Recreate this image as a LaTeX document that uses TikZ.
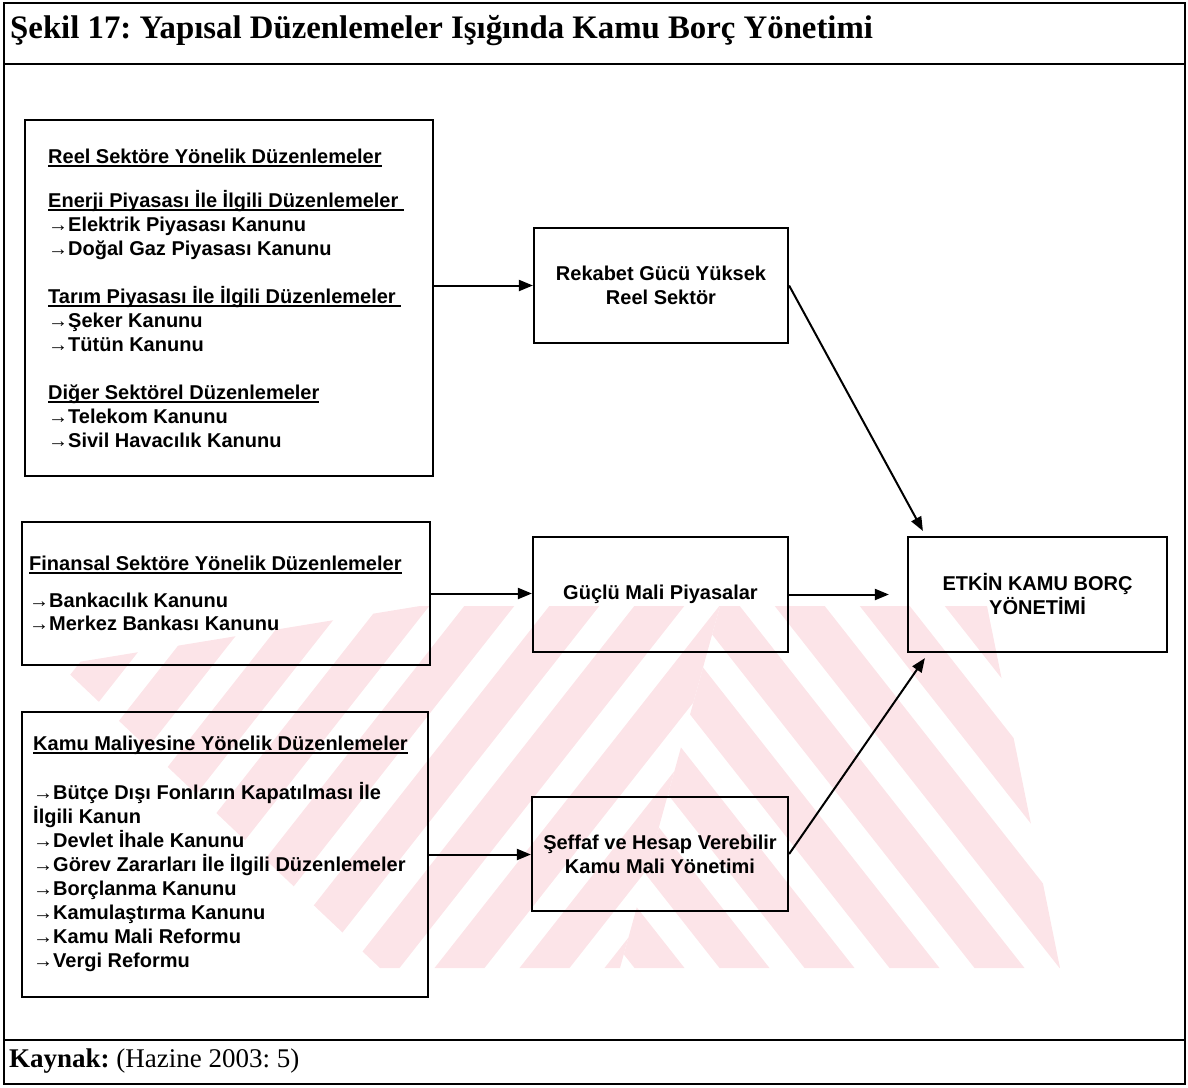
\documentclass[tikz,border=0pt]{standalone}
\usepackage{fontspec}
\setmainfont{Liberation Serif}
\setsansfont{Liberation Sans}
\usetikzlibrary{arrows.meta,calc}
\frenchspacing

\definecolor{wmpink}{RGB}{252,228,232}

% underlined heading with a rule close under the baseline
\newcommand\hdline[1]{\setbox0\hbox{#1}\rlap{\rule[-3.5pt]{\wd0}{1.5pt}}\box0}
% a stack of lines, baseline of the block = baseline of its first line
\newcommand\lineblock[2]{\vtop{\baselineskip=#1\lineskiplimit=-100pt #2}}
\newcommand\blank{\hbox{}}

\tikzset{
  frameline/.style={line width=1.6pt},
  box/.style={draw, line width=2.2pt, inner sep=0pt},
  boxtext/.style={anchor=base west, inner sep=0pt, font=\sffamily\bfseries\fontsize{20}{24}\selectfont},
  midbox/.style={box, align=center, font=\sffamily\bfseries\fontsize{20}{24}\selectfont},
  arr/.style={line width=2pt, -{Triangle[length=14pt,width=11pt]}},
  wm/.style={fill=wmpink, draw=none},
}

\begin{document}
\begin{tikzpicture}[x=1pt,y=-1pt]
\useasboundingbox (0,0) rectangle (1188,1087);

% faint striped emblem in the background of the lower half
\begin{scope}
  \clip (60,665) -- (420,606) -- (720,606) -- (620,968) -- (380,968) -- cycle;
  \foreach \k in {-6,...,10}
    \fill[wm] ({174+85*\k},975) -- ({224+85*\k},975) -- ({519+85*\k},600) -- ({469+85*\k},600) -- cycle;
\end{scope}
\begin{scope}
  \clip (720,606) -- (987,606) -- (1060,968) -- (620,968) -- cycle;
  \foreach \k in {-8,...,8}
    \fill[wm] ({430+85*\k},600) -- ({480+85*\k},600) -- ({775+85*\k},975) -- ({725+85*\k},975) -- cycle;
\end{scope}

% outer frame with title and source rows
\draw[frameline] (4,3) rectangle (1185,1084);
\draw[frameline] (4,64) -- (1185,64);
\draw[frameline] (4,1040) -- (1185,1040);

\node[anchor=base west, inner sep=0pt, font=\bfseries\fontsize{32.8}{36}\selectfont] (title) at (10,38)
  {Şekil 17: Yapısal Düzenlemeler Işığında Kamu Borç Yönetimi};
\node[anchor=base west, inner sep=0pt, font=\fontsize{27}{30}\selectfont] (source) at (9,1067)
  {\textbf{Kaynak:} (Hazine 2003: 5)};

% left column: groups of regulations
\node[box, minimum width=408pt, minimum height=356pt] (reel) at (229,298) {};
\node[box, minimum width=408pt, minimum height=143pt] (fin) at (226,593.5) {};
\node[box, minimum width=406pt, minimum height=285pt] (kamu) at (225,854.5) {};

\node[boxtext] (reeltext) at (48,163) {\lineblock{24pt}{%
  \hbox{\hdline{Reel Sektöre Yönelik Düzenlemeler}}\vskip20pt
  \hbox{\hdline{Enerji Piyasası İle İlgili Düzenlemeler }}
  \hbox{→Elektrik Piyasası Kanunu}
  \hbox{→Doğal Gaz Piyasası Kanunu}
  \blank
  \hbox{\hdline{Tarım Piyasası İle İlgili Düzenlemeler }}
  \hbox{→Şeker Kanunu}
  \hbox{→Tütün Kanunu}
  \blank
  \hbox{\hdline{Diğer Sektörel Düzenlemeler}}
  \hbox{→Telekom Kanunu}
  \hbox{→Sivil Havacılık Kanunu}}};

\node[boxtext] (fintext) at (29,570) {\lineblock{23pt}{%
  \hbox{\hdline{Finansal Sektöre Yönelik Düzenlemeler}}\vskip14pt
  \hbox{→Bankacılık Kanunu}
  \hbox{→Merkez Bankası Kanunu}}};

\node[boxtext] (kamutext) at (33,750) {\lineblock{23.9pt}{%
  \hbox{\hdline{Kamu Maliyesine Yönelik Düzenlemeler}}\vskip26pt
  \hbox{→Bütçe Dışı Fonların Kapatılması İle}
  \hbox{İlgili Kanun}
  \hbox{→Devlet İhale Kanunu}
  \hbox{→Görev Zararları İle İlgili Düzenlemeler}
  \hbox{→Borçlanma Kanunu}
  \hbox{→Kamulaştırma Kanunu}
  \hbox{→Kamu Mali Reformu}
  \hbox{→Vergi Reformu}}};

% middle column: outcomes
\node[midbox, minimum width=254pt, minimum height=115pt] (rekabet) at (661,285.5)
  {Rekabet Gücü Yüksek\\Reel Sektör};
\node[midbox, minimum width=255pt, minimum height=115pt] (guclu) at (660.5,594.5)
  {Güçlü Mali Piyasalar};
\node[midbox, minimum width=256pt, minimum height=114pt] (seffaf) at (660,854)
  {Şeffaf ve Hesap Verebilir\\Kamu Mali Yönetimi};

% right column: goal
\node[midbox, minimum width=259pt, minimum height=115pt] (etkin) at (1037.5,594.5)
  {ETKİN KAMU BORÇ\\YÖNETİMİ};

\coordinate (etkinTop) at ($(etkin.north west)+(16,-5)$);
\coordinate (etkinBot) at ($(etkin.south west)+(18,5)$);

% connectors
\draw[arr] (reel.east |- rekabet.west) -- (rekabet.west);
\draw[arr] (fin.east) -- (fin.east -| guclu.west);
\draw[arr] (kamu.east) -- (kamu.east -| seffaf.west);
\draw[arr, shorten >=18pt] (guclu.east) -- (etkin.west);
\draw[arr] (rekabet.east) -- (etkinTop);
\draw[arr] (seffaf.east) -- (etkinBot);
\end{tikzpicture}
\end{document}
